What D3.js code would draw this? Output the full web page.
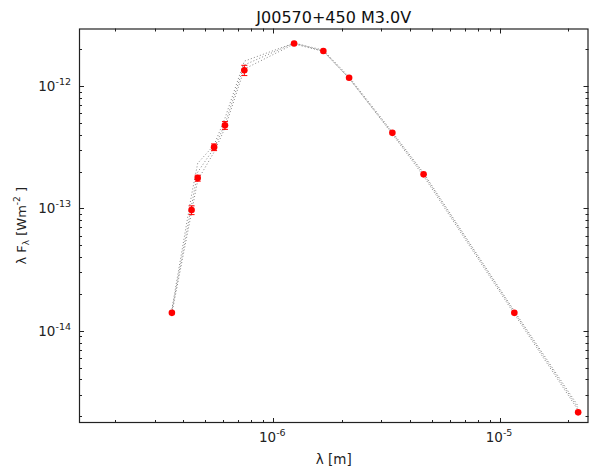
<!DOCTYPE html>
<html>
<head>
<meta charset="utf-8">
<script src="https://cdn.jsdelivr.net/npm/d3@7"></script>
<style>
  html, body { margin: 0; padding: 0; background: #fff; }
  svg { display: block; font-family: "DejaVu Sans", sans-serif; }
</style>
</head>
<body>
<svg id="chart" width="590" height="475"></svg>
<script>
// Photometric bands: effective wavelength [m]
const wavelengths = [3.57e-7, 4.36e-7, 4.64e-7, 5.48e-7, 6.12e-7, 7.45e-7,
                     1.235e-6, 1.662e-6, 2.159e-6, 3.35e-6, 4.6e-6, 1.156e-5, 2.21e-5];
// Observed lambda*F_lambda [W m^-2] and 1-sigma uncertainties
const fluxes = [1.40e-14, 9.7e-14, 1.77e-13, 3.17e-13, 4.78e-13, 1.35e-12,
                2.23e-12, 1.94e-12, 1.17e-12, 4.15e-13, 1.90e-13, 1.40e-14, 2.15e-15];
const fluxErrors = [0, 0.8e-14, 1.0e-14, 2.0e-14, 3.5e-14, 1.3e-13,
                    0, 0, 0, 0, 0, 0, 0];
// Model photospheres evaluated at the same bands
const modelA = [1.50e-14, 1.29e-13, 2.34e-13, 3.30e-13, 5.47e-13, 1.60e-12,
                2.25e-12, 1.97e-12, 1.19e-12, 4.21e-13, 1.95e-13, 1.45e-14, 2.42e-15];
const modelB = [1.45e-14, 1.06e-13, 1.98e-13, 3.11e-13, 4.89e-13, 1.49e-12,
                2.25e-12, 1.93e-12, 1.16e-12, 4.13e-13, 1.91e-13, 1.42e-14, 2.33e-15];
const modelC = [1.39e-14, 9.33e-14, 1.70e-13, 2.89e-13, 4.54e-13, 1.38e-12,
                2.21e-12, 1.93e-12, 1.16e-12, 4.05e-13, 1.84e-13, 1.37e-14, 2.24e-15];
const models = [modelA, modelB, modelC];

const xTickExps = [-6, -5];
const yTickExps = [-14, -13, -12];
const titleText = "J00570+450 M3.0V";

const svg = d3.select("#chart");
const plot = { left: 79, right: 588.5, top: 28.5, bottom: 423 };

const x = d3.scaleLog().domain([1.39e-7, 2.455e-5]).range([plot.left, plot.right]);
const y = d3.scaleLog().domain([1.76e-15, 2.96e-12]).range([plot.bottom, plot.top]);

// minor tick values within a log domain
function minorTicks(scale) {
  const [a, b] = scale.domain();
  const out = [];
  for (let e = Math.floor(Math.log10(a)); e <= Math.ceil(Math.log10(b)); e++) {
    for (let m = 2; m <= 9; m++) {
      const v = m * Math.pow(10, e);
      if (v >= a && v <= b) out.push(v);
    }
  }
  return out;
}

const axisColor = "#222";
const majorLen = 5, minorLen = 3;

// Ticks drawn inward on all four sides
const ticksG = svg.append("g").attr("stroke", axisColor).attr("stroke-width", 1);
function drawXTicks(vals, len) {
  vals.forEach(v => {
    const px = Math.round(x(v)) + 0.5;
    ticksG.append("line").attr("x1", px).attr("x2", px)
      .attr("y1", plot.bottom).attr("y2", plot.bottom - len);
    ticksG.append("line").attr("x1", px).attr("x2", px)
      .attr("y1", plot.top).attr("y2", plot.top + len);
  });
}
function drawYTicks(vals, len) {
  vals.forEach(v => {
    const py = Math.round(y(v)) + 0.5;
    ticksG.append("line").attr("y1", py).attr("y2", py)
      .attr("x1", plot.left).attr("x2", plot.left + len);
    ticksG.append("line").attr("y1", py).attr("y2", py)
      .attr("x1", plot.right).attr("x2", plot.right - len);
  });
}
drawXTicks(minorTicks(x), minorLen);
drawYTicks(minorTicks(y), minorLen);
drawXTicks(xTickExps.map(e => Math.pow(10, e)), majorLen);
drawYTicks(yTickExps.map(e => Math.pow(10, e)), majorLen);

// Model curves: dotted gray polylines in log-log space
const line = d3.line().x((d, i) => x(wavelengths[i])).y(d => y(d));
svg.append("g").selectAll("path").data(models).join("path")
  .attr("d", d => line(d))
  .attr("fill", "none")
  .attr("stroke", "#666")
  .attr("stroke-width", 1)
  .attr("stroke-dasharray", "1,2.2")
  .attr("opacity", 0.8);

// Observed photometry with error bars
const pts = wavelengths.map((w, i) => ({ w, f: fluxes[i], e: fluxErrors[i] }));
const errG = svg.append("g").attr("stroke", "red").attr("stroke-width", 1);
pts.filter(d => d.e > 0).forEach(d => {
  const px = x(d.w), y1 = y(d.f + d.e), y2 = y(d.f - d.e);
  errG.append("line").attr("x1", px).attr("x2", px).attr("y1", y1).attr("y2", y2);
  errG.append("line").attr("x1", px - 3).attr("x2", px + 3).attr("y1", y1).attr("y2", y1);
  errG.append("line").attr("x1", px - 3).attr("x2", px + 3).attr("y1", y2).attr("y2", y2);
});
svg.append("g").selectAll("circle").data(pts).join("circle")
  .attr("cx", d => x(d.w))
  .attr("cy", d => y(d.f))
  .attr("r", 3.3)
  .attr("fill", "red");

// Frame
svg.append("rect")
  .attr("x", plot.left + 0.5).attr("y", plot.top + 0.5)
  .attr("width", plot.right - plot.left - 1).attr("height", plot.bottom - plot.top - 1)
  .attr("fill", "none").attr("stroke", axisColor).attr("stroke-width", 1.2);

// Tick labels of the form 10^e
function powerLabel(g, e, ax, ay, anchor) {
  const t = g.append("text").attr("x", ax).attr("y", ay)
    .attr("text-anchor", anchor).attr("font-size", 13.5).attr("fill", "#222");
  t.append("tspan").text("10");
  t.append("tspan").attr("font-size", 9.5).attr("dy", -6).text(String(e));
}
const lab = svg.append("g");
xTickExps.forEach(e => powerLabel(lab, e, x(Math.pow(10, e)) - 1, 442, "middle"));
yTickExps.forEach(e => powerLabel(lab, e, plot.left - 8, y(Math.pow(10, e)) + 5, "end"));

// Title
svg.append("text")
  .attr("x", (plot.left + plot.right) / 2).attr("y", 23)
  .attr("text-anchor", "middle").attr("font-size", 16).attr("fill", "#111")
  .text(titleText);

// Axis titles
const xl = svg.append("text")
  .attr("x", (plot.left + plot.right) / 2).attr("y", 464)
  .attr("text-anchor", "middle").attr("font-size", 13.5).attr("fill", "#222");
xl.text("λ [m]");

const yl = svg.append("text")
  .attr("transform", `translate(26,${(plot.top + plot.bottom) / 2}) rotate(-90)`)
  .attr("text-anchor", "middle").attr("font-size", 13).attr("fill", "#222");
yl.append("tspan").text("λ F");
yl.append("tspan").attr("font-size", 9).attr("dy", 3).text("λ");
yl.append("tspan").attr("dy", -3).text(" [Wm");
yl.append("tspan").attr("font-size", 9).attr("dy", -6).text("-2");
yl.append("tspan").attr("dy", 6).text(" ]");
</script>
</body>
</html>
